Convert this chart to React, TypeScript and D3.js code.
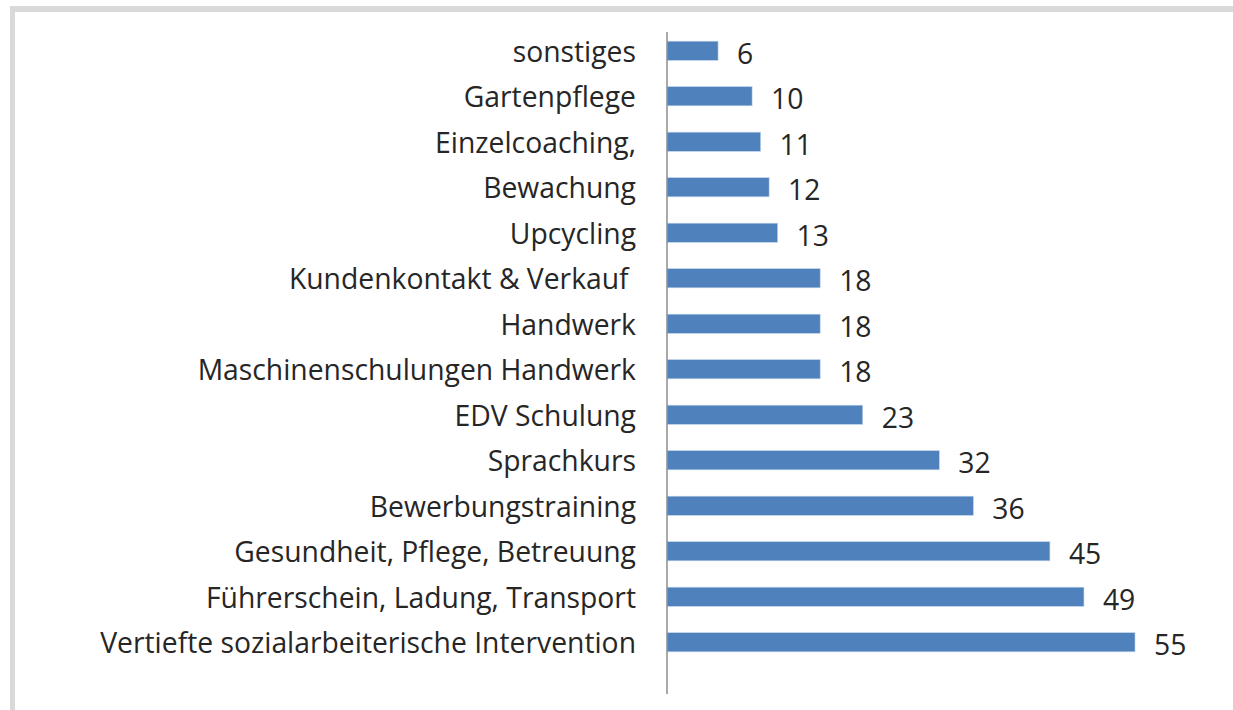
import * as React from 'react'
import * as d3 from 'd3'

const categories = [
  'sonstiges',
  'Gartenpflege',
  'Einzelcoaching,',
  'Bewachung',
  'Upcycling',
  'Kundenkontakt & Verkauf ',
  'Handwerk',
  'Maschinenschulungen Handwerk',
  'EDV Schulung',
  'Sprachkurs',
  'Bewerbungstraining',
  'Gesundheit, Pflege, Betreuung',
  'Führerschein, Ladung, Transport',
  'Vertiefte sozialarbeiterische Intervention',
]
const counts = [6, 10, 11, 12, 13, 18, 18, 18, 23, 32, 36, 45, 49, 55]

const width = 1233
const height = 710
const font = '"Open Sans", sans-serif'

const App = () => {
  const y = d3.scaleBand<string>()
    .domain(categories)
    .range([28, 665])
    .paddingInner(0.58)
    .paddingOuter(0.29)

  const x = d3.scaleLinear().domain([0, 55]).range([667, 1135])

  return (
    <svg width={width} height={height} style={{position: 'absolute', left: 0, top: 0}}>
      <rect x={0} y={0} width={width} height={height} fill="#fff" />
      {/* frame, only top and left visible */}
      <rect x={10} y={6} width={width - 10} height={6} fill="#d9d9d9" />
      <rect x={10} y={6} width={5} height={height - 6} fill="#d9d9d9" />

      {categories.map((c, i) => (
        <g key={c}>
          <rect
            x={x(0)}
            y={y(c)}
            width={x(counts[i]) - x(0)}
            height={y.bandwidth()}
            fill="#4f81bd"
            stroke="#bcd0e8"
            strokeWidth={0.6}
          />
          <text
            x={636}
            y={y(c)! + y.bandwidth() / 2}
            textAnchor="end"
            dominantBaseline="central"
            fontFamily={font}
            fontSize={28.3}
            fill="#262626"
            style={{whiteSpace: 'pre'}}
          >
            {c}
          </text>
          <text
            x={x(counts[i]) + 19}
            y={y(c)! + y.bandwidth() / 2 + 2}
            dominantBaseline="central"
            fontFamily={font}
            fontSize={28.3}
            fill="#262626"
          >
            {counts[i]}
          </text>
        </g>
      ))}

      <line x1={667} x2={667} y1={32} y2={694} stroke="#8c8c8c" strokeWidth={1.5} />
    </svg>
  )
}

export default App
